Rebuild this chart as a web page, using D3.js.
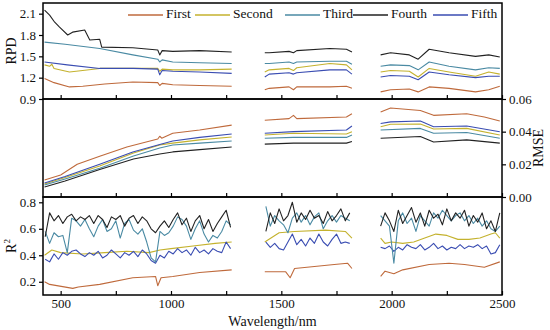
<!DOCTYPE html>
<html>
<head>
<meta charset="utf-8">
<script src="https://cdn.jsdelivr.net/npm/d3@7"></script>
<style>
  body { margin: 0; background: #fff; }
  text { font-family: "Liberation Serif", "Times New Roman", serif; }
</style>
</head>
<body>
<div id="chart"></div>
<script>
// series names and colours
const seriesNames = ["First", "Second", "Third", "Fourth", "Fifth"];
const seriesColors = ["#bf6a3c", "#c4b22e", "#4a8aa3", "#222222", "#3a4db2"];

// RPD panel, [wavelength, value], null = gap between bands
const rpdFirst = [[427,1.19],[470,1.13],[540,1.07],[600,1.08],[700,1.11],[827,1.14],[940,1.13],[949,1.09],[960,1.12],[1008,1.10],[1130,1.09],[1275,1.08],null,
  [1425,1.03],[1445,1.05],[1535,1.07],[1555,1.03],[1570,1.07],[1720,1.07],[1795,1.08],[1820,1.05],null,
  [1950,1.00],[1995,1.03],[2080,1.04],[2120,1.00],[2170,1.07],[2260,1.05],[2380,1.00],[2440,1.03],[2490,1.08]];
const rpdSecond = [[427,1.38],[450,1.36],[460,1.39],[470,1.33],[540,1.28],[600,1.30],[677,1.33],[830,1.33],[940,1.33],[949,1.29],[960,1.32],[1008,1.31],[1130,1.31],[1275,1.32],null,
  [1425,1.28],[1445,1.31],[1535,1.33],[1555,1.30],[1570,1.34],[1720,1.40],[1795,1.38],[1820,1.31],null,
  [1950,1.28],[1995,1.30],[2080,1.29],[2120,1.21],[2170,1.33],[2260,1.28],[2380,1.22],[2440,1.28],[2490,1.25]];
const rpdThird = [[427,1.70],[520,1.67],[677,1.61],[827,1.52],[940,1.46],[949,1.42],[960,1.45],[1008,1.42],[1130,1.41],[1275,1.40],null,
  [1425,1.40],[1445,1.40],[1535,1.42],[1555,1.40],[1570,1.42],[1720,1.43],[1795,1.43],[1820,1.39],null,
  [1950,1.36],[1995,1.38],[2080,1.37],[2120,1.31],[2170,1.42],[2260,1.36],[2380,1.31],[2440,1.34],[2490,1.33]];
const rpdFourth = [[427,2.15],[450,2.08],[473,1.98],[495,1.91],[532,1.80],[554,1.84],[609,1.87],[632,1.73],[677,1.74],[686,1.63],[827,1.62],[940,1.59],[949,1.52],[960,1.58],[1008,1.57],[1130,1.58],[1275,1.56],null,
  [1425,1.55],[1445,1.55],[1535,1.57],[1555,1.55],[1570,1.58],[1720,1.61],[1795,1.60],[1820,1.56],null,
  [1950,1.52],[1995,1.55],[2080,1.52],[2120,1.46],[2170,1.60],[2260,1.55],[2380,1.50],[2440,1.52],[2490,1.49]];
const rpdFifth = [[427,1.42],[530,1.38],[677,1.33],[830,1.33],[940,1.32],[949,1.24],[960,1.30],[1008,1.29],[1130,1.28],[1275,1.26],null,
  [1425,1.21],[1445,1.25],[1535,1.27],[1555,1.25],[1570,1.27],[1720,1.31],[1795,1.31],[1820,1.25],null,
  [1950,1.21],[1995,1.23],[2080,1.22],[2120,1.17],[2170,1.28],[2260,1.24],[2380,1.20],[2440,1.22],[2490,1.22]];

// RMSE panel
const rmseFirst = [[427,0.0104],[500,0.0135],[575,0.0200],[677,0.0250],[800,0.0306],[940,0.0355],[949,0.0372],[958,0.0360],[1008,0.039],[1130,0.041],[1275,0.044],null,
  [1425,0.047],[1535,0.048],[1555,0.050],[1570,0.048],[1795,0.049],[1820,0.051],null,
  [1950,0.052],[1995,0.0545],[2130,0.053],[2190,0.050],[2340,0.051],[2420,0.049],[2490,0.0465]];
const rmseSecond = [[427,0.0080],[520,0.0120],[677,0.0190],[830,0.0269],[949,0.0318],[1008,0.033],[1130,0.035],[1275,0.0367],null,
  [1425,0.038],[1555,0.039],[1795,0.0386],[1820,0.040],null,
  [1950,0.043],[1995,0.0445],[2130,0.0447],[2190,0.0416],[2340,0.042],[2490,0.038]];
const rmseThird = [[427,0.0073],[520,0.0110],[677,0.0176],[830,0.0251],[949,0.030],[1008,0.0318],[1130,0.033],[1275,0.0343],null,
  [1425,0.036],[1555,0.0365],[1795,0.0365],[1820,0.038],null,
  [1950,0.041],[2130,0.042],[2190,0.039],[2340,0.0395],[2490,0.036]];
const rmseFourth = [[427,0.0061],[520,0.0098],[677,0.0168],[830,0.0233],[949,0.0263],[1008,0.0276],[1130,0.029],[1275,0.0306],null,
  [1425,0.0324],[1555,0.033],[1795,0.033],[1820,0.034],null,
  [1950,0.036],[2130,0.037],[2190,0.0337],[2340,0.035],[2490,0.033]];
const rmseFifth = [[427,0.0086],[520,0.0125],[677,0.0200],[827,0.0276],[949,0.0322],[1008,0.0343],[1130,0.0365],[1275,0.0386],null,
  [1425,0.039],[1555,0.040],[1795,0.041],[1820,0.0435],null,
  [1950,0.045],[1995,0.046],[2130,0.0465],[2190,0.043],[2340,0.0435],[2490,0.040]];

// R2 panel: smooth series as [wavelength, value]
const r2First = [[427,0.20],[450,0.18],[555,0.15],[580,0.16],[677,0.18],[827,0.23],[930,0.24],[940,0.17],[955,0.23],[1008,0.24],[1130,0.27],[1275,0.29],null,
  [1425,0.275],[1520,0.275],[1540,0.23],[1560,0.30],[1740,0.33],[1800,0.34],[1820,0.30],null,
  [1950,0.24],[1970,0.28],[2010,0.26],[2050,0.29],[2170,0.33],[2260,0.34],[2330,0.33],[2420,0.31],[2490,0.35]];
const r2Second = [[427,0.40],[460,0.44],[500,0.42],[600,0.41],[700,0.42],[800,0.43],[900,0.42],[950,0.44],[1000,0.45],[1100,0.47],[1200,0.49],[1275,0.50],null,
  [1425,0.50],[1490,0.57],[1560,0.58],[1700,0.59],[1790,0.58],[1820,0.53],null,
  [1950,0.53],[1970,0.49],[2000,0.50],[2050,0.49],[2100,0.50],[2150,0.53],[2200,0.56],[2250,0.55],[2300,0.52],[2350,0.52],[2400,0.53],[2450,0.56],[2470,0.57],[2490,0.53]];

// R2 panel: noisy series sampled every 20 nm on each band
const band1 = d3.range(430, 1271, 20);
const band2 = d3.range(1430, 1811, 20);
const band3 = d3.range(1950, 2491, 20);
const r2Third1 = [0.58,0.49,0.57,0.54,0.55,0.42,0.68,0.66,0.62,0.67,0.60,0.54,0.62,0.67,0.58,0.60,0.66,0.53,0.64,0.67,0.59,0.56,0.60,0.50,0.38,0.35,0.58,0.55,0.57,0.62,0.69,0.67,0.62,0.52,0.60,0.66,0.56,0.50,0.55,0.53,0.58,0.66,0.63];
const r2Third2 = [0.77,0.62,0.70,0.66,0.63,0.57,0.68,0.72,0.65,0.70,0.63,0.69,0.72,0.60,0.66,0.70,0.65,0.70,0.68,0.66];
const r2Third3 = [0.70,0.66,0.62,0.34,0.66,0.72,0.64,0.68,0.58,0.70,0.66,0.62,0.72,0.68,0.74,0.70,0.66,0.70,0.72,0.66,0.70,0.64,0.68,0.62,0.66,0.60,0.58,0.62];
const r2Fourth1 = [0.54,0.72,0.66,0.70,0.64,0.69,0.71,0.66,0.69,0.67,0.70,0.64,0.70,0.67,0.61,0.69,0.67,0.70,0.62,0.68,0.70,0.64,0.69,0.66,0.60,0.57,0.62,0.66,0.61,0.67,0.72,0.63,0.68,0.58,0.66,0.70,0.60,0.67,0.58,0.64,0.69,0.74,0.61];
const r2Fourth2 = [0.58,0.72,0.64,0.75,0.66,0.70,0.80,0.65,0.72,0.67,0.74,0.68,0.70,0.64,0.73,0.66,0.70,0.75,0.66,0.72];
const r2Fourth3 = [0.62,0.72,0.66,0.58,0.74,0.64,0.70,0.76,0.65,0.72,0.62,0.74,0.68,0.71,0.63,0.75,0.66,0.72,0.68,0.74,0.62,0.70,0.65,0.72,0.60,0.66,0.58,0.72];
const r2Fifth1 = [0.37,0.35,0.41,0.37,0.42,0.40,0.43,0.44,0.41,0.39,0.42,0.40,0.43,0.38,0.40,0.44,0.41,0.38,0.42,0.40,0.43,0.39,0.44,0.41,0.36,0.34,0.40,0.38,0.43,0.41,0.45,0.42,0.44,0.40,0.46,0.42,0.44,0.41,0.45,0.43,0.42,0.50,0.45];
const r2Fifth2 = [0.50,0.46,0.49,0.45,0.44,0.50,0.56,0.48,0.52,0.47,0.53,0.49,0.56,0.50,0.47,0.52,0.56,0.49,0.50,0.49];
const r2Fifth3 = [0.46,0.45,0.47,0.43,0.46,0.44,0.48,0.46,0.45,0.48,0.44,0.46,0.49,0.45,0.47,0.44,0.46,0.45,0.48,0.45,0.47,0.46,0.48,0.45,0.47,0.41,0.42,0.48];

const xTicks = [500, 750, 1000, 1250, 1500, 1750, 2000, 2250, 2500];
const xLabels = [500, 1000, 1500, 2000, 2500];
const rpdTicks = [0.9, 1.2, 1.5, 1.8, 2.1];
const rmseTicks = [0, 0.02, 0.04, 0.06];
const r2Ticks = [0.2, 0.4, 0.6, 0.8];

function joinBands(a, b, c) {
  const pts = [];
  [[band1, a], [band2, b], [band3, c]].forEach(([w, v], i) => {
    if (i > 0) pts.push(null);
    w.forEach((x, j) => pts.push([x, v[j]]));
  });
  return pts;
}

const rpdData = [rpdFirst, rpdSecond, rpdThird, rpdFourth, rpdFifth];
const rmseData = [rmseFirst, rmseSecond, rmseThird, rmseFourth, rmseFifth];
const r2Data = [r2First, r2Second,
  joinBands(r2Third1, r2Third2, r2Third3),
  joinBands(r2Fourth1, r2Fourth2, r2Fourth3),
  joinBands(r2Fifth1, r2Fifth2, r2Fifth3)];

const width = 550, height = 330;
const left = 43, right = 502;

const svg = d3.select("#chart").append("svg")
    .attr("width", width)
    .attr("height", height);

const x = d3.scaleLinear().domain([420, 2500]).range([left, right]);

const panels = [
  {top: 3, bottom: 99, domain: [0.9, 2.25], data: rpdData, ticks: rpdTicks, side: "left", fmt: d3.format(".1f"), label: "RPD"},
  {top: 99, bottom: 197, domain: [0, 0.06], data: rmseData, ticks: rmseTicks, side: "right", fmt: d3.format(".2f"), label: "RMSE"},
  {top: 197, bottom: 295, domain: [0.1, 0.84], data: r2Data, ticks: r2Ticks, side: "left", fmt: d3.format(".1f"), label: "R2"}
];

const drawOrder = [0, 1, 4, 2, 3];

panels.forEach((p, pi) => {
  const y = d3.scaleLinear().domain(p.domain).range([p.bottom, p.top]);
  const g = svg.append("g");

  const line = d3.line()
      .defined(d => d !== null)
      .x(d => x(d[0]))
      .y(d => y(d[1]));

  drawOrder.forEach(i => {
    g.append("path")
      .attr("d", line(p.data[i]))
      .attr("fill", "none")
      .attr("stroke", seriesColors[i])
      .attr("stroke-width", 1.1)
      .attr("stroke-linejoin", "round");
  });

  // inward x ticks at bottom of each panel
  g.append("g")
    .attr("transform", "translate(0," + p.bottom + ")")
    .call(d3.axisBottom(x).tickValues(xTicks).tickSize(-4)
      .tickFormat(d => (pi === 2 && xLabels.includes(d)) ? d : ""))
    .call(a => a.select(".domain").remove())
    .call(a => a.selectAll("line").attr("stroke-width", 1.2))
    .call(a => a.selectAll("text").attr("y", 4).attr("font-size", 13)
      .attr("font-family", "Liberation Serif").attr("fill", "#111"));

  // y axis
  const axis = p.side === "left" ? d3.axisLeft(y) : d3.axisRight(y);
  g.append("g")
    .attr("transform", "translate(" + (p.side === "left" ? left : right) + ",0)")
    .call(axis.tickValues(p.ticks).tickSize(4).tickPadding(3).tickFormat(p.fmt))
    .call(a => a.select(".domain").remove())
    .call(a => a.selectAll("line").attr("stroke-width", 1.2))
    .call(a => a.selectAll("text").attr("font-size", 13)
      .attr("font-family", "Liberation Serif").attr("fill", "#111"));

  // panel frame
  g.append("rect")
    .attr("x", left).attr("y", p.top)
    .attr("width", right - left).attr("height", p.bottom - p.top)
    .attr("fill", "none").attr("stroke", "#000").attr("stroke-width", 1.5);

  // axis title
  const ty = (p.top + p.bottom) / 2;
  const tx = p.side === "left" ? 13 : 540;
  const t = svg.append("text")
    .attr("transform", "translate(" + tx + "," + ty + ") rotate(-90)")
    .attr("text-anchor", "middle")
    .attr("dominant-baseline", "middle")
    .attr("font-size", 14)
    .attr("fill", "#111");
  if (p.label === "R2") {
    t.append("tspan").text("R");
    t.append("tspan").attr("font-size", 9).attr("dy", -5).text("2");
  } else {
    t.text(p.label);
  }
});

// x title
svg.append("text")
  .attr("x", (left + right) / 2)
  .attr("y", 326)
  .attr("text-anchor", "middle")
  .attr("font-size", 14)
  .attr("fill", "#111")
  .text("Wavelength/nm");

// legend
const legendX = [128, 195, 285, 353, 433];
const legend = svg.append("g").attr("transform", "translate(0,15)");
seriesNames.forEach((name, i) => {
  legend.append("line")
    .attr("x1", legendX[i]).attr("x2", legendX[i] + 35)
    .attr("y1", 0).attr("y2", 0)
    .attr("stroke", seriesColors[i]).attr("stroke-width", 1.5);
  legend.append("text")
    .attr("x", legendX[i] + 38).attr("y", 0)
    .attr("dominant-baseline", "middle")
    .attr("font-size", 13.5)
    .attr("fill", "#111")
    .text(name);
});
</script>
</body>
</html>
